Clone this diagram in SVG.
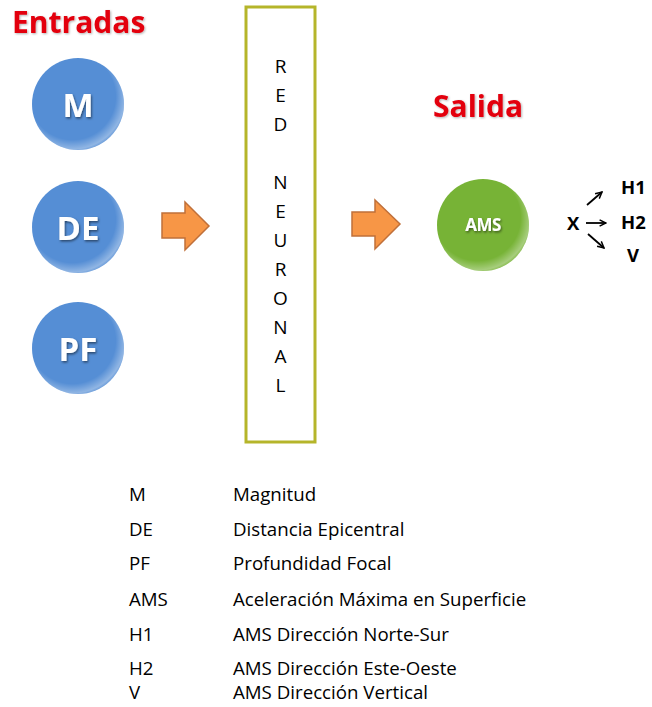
<svg xmlns="http://www.w3.org/2000/svg" width="652" height="707" viewBox="0 0 652 707">
<defs>
<radialGradient id="bevel" cx="0.44" cy="0.42" r="0.6">
<stop offset="0.78" stop-color="#ffffff" stop-opacity="0"/>
<stop offset="0.95" stop-color="#ffffff" stop-opacity="0.35"/>
<stop offset="1" stop-color="#ffffff" stop-opacity="0.15"/>
</radialGradient>
<filter id="ts" x="-20%" y="-20%" width="140%" height="140%">
<feDropShadow dx="1" dy="1.5" stdDeviation="1" flood-color="#000" flood-opacity="0.5"/>
</filter>
<filter id="rs" x="-10%" y="-20%" width="120%" height="140%">
<feDropShadow dx="1" dy="1" stdDeviation="0.8" flood-color="#000" flood-opacity="0.3"/>
</filter>
<marker id="ah" viewBox="0 0 10 10" refX="9" refY="5" markerWidth="8" markerHeight="8" markerUnits="userSpaceOnUse" orient="auto">
<path d="M1,1 L9,5 L1,9" fill="none" stroke="#000" stroke-width="1.8"/>
</marker>
</defs>
<style>
.title{font-family:"Open Sans",sans-serif;font-weight:bold;font-size:30px;fill:#e3000f}
.blue{fill:#558ed5}
.green{fill:#77b336}
.lbl{font-family:"Open Sans",sans-serif;font-weight:bold;fill:#fff;text-anchor:middle}
.net{font-family:"Open Sans",sans-serif;font-size:19px;fill:#000;text-anchor:middle}
.out{font-family:"Open Sans",sans-serif;font-weight:bold;font-size:18.5px;fill:#000}
.leg{font-family:"Open Sans",sans-serif;font-size:18.7px;fill:#000}
.arrow{fill:#f79646;stroke:#c0703a;stroke-width:1.5}
.conn{stroke:#000;stroke-width:1.8;fill:none}
</style>
<rect width="652" height="707" fill="#fff"/>
<text class="title" x="12" y="33" filter="url(#rs)">Entradas</text>
<text class="title" x="433" y="117" filter="url(#rs)">Salida</text>

<g id="node-M">
<circle class="blue" cx="78" cy="104" r="46"/>
<circle cx="78" cy="104" r="46" fill="url(#bevel)"/>
<text class="lbl" x="78" y="117" font-size="33" filter="url(#ts)">M</text>
</g>
<g id="node-DE">
<circle class="blue" cx="78" cy="227" r="46"/>
<circle cx="78" cy="227" r="46" fill="url(#bevel)"/>
<text class="lbl" x="78" y="240" font-size="33" filter="url(#ts)">DE</text>
</g>
<g id="node-PF">
<circle class="blue" cx="78" cy="348" r="46"/>
<circle cx="78" cy="348" r="46" fill="url(#bevel)"/>
<text class="lbl" x="78" y="361" font-size="33" filter="url(#ts)">PF</text>
</g>

<g id="node-red">
<rect x="246" y="7" width="69" height="435" fill="#fff" stroke="#b5b52a" stroke-width="3"/>
<text class="net" x="280.5" y="73">R</text>
<text class="net" x="280.5" y="102">E</text>
<text class="net" x="280.5" y="131">D</text>
<text class="net" x="280.5" y="189">N</text>
<text class="net" x="280.5" y="218">E</text>
<text class="net" x="280.5" y="247">U</text>
<text class="net" x="280.5" y="276">R</text>
<text class="net" x="280.5" y="305">O</text>
<text class="net" x="280.5" y="334">N</text>
<text class="net" x="280.5" y="363">A</text>
<text class="net" x="280.5" y="392">L</text>
</g>

<g id="node-AMS">
<circle class="green" cx="483" cy="225" r="46"/>
<circle cx="483" cy="225" r="46" fill="url(#bevel)"/>
<text class="lbl" x="483" y="231" font-size="17" letter-spacing="-0.5" filter="url(#ts)">AMS</text>
</g>

<g id="node-X">
<text class="out" x="567" y="230" font-size="19.5">X</text>
</g>
<g id="node-H1"><text class="out" x="621" y="194">H1</text></g>
<g id="node-H2"><text class="out" x="621" y="229">H2</text></g>
<g id="node-V"><text class="out" x="627" y="262">V</text></g>

<g id="connectors">
<path class="arrow" d="M162,213 L185,213 L185,202 L209,226 L185,250 L185,238 L162,238 Z"/>
<path class="arrow" d="M352,212 L375,212 L375,200 L400,224 L375,249 L375,236 L352,236 Z"/>
<line class="conn" x1="587" y1="205" x2="602" y2="192" marker-end="url(#ah)"/>
<line class="conn" x1="586" y1="223" x2="606" y2="223" marker-end="url(#ah)"/>
<line class="conn" x1="588" y1="234" x2="604" y2="248" marker-end="url(#ah)"/>
</g>

<g id="legend">
<text class="leg" x="129" y="501">M</text><text class="leg" x="233" y="501">Magnitud</text>
<text class="leg" x="129" y="536">DE</text><text class="leg" x="233" y="536">Distancia Epicentral</text>
<text class="leg" x="129" y="570">PF</text><text class="leg" x="233" y="570">Profundidad Focal</text>
<text class="leg" x="129" y="606">AMS</text><text class="leg" x="233" y="606">Aceleración Máxima en Superficie</text>
<text class="leg" x="129" y="641">H1</text><text class="leg" x="233" y="641">AMS Dirección Norte-Sur</text>
<text class="leg" x="129" y="675">H2</text><text class="leg" x="233" y="675">AMS Dirección Este-Oeste</text>
<text class="leg" x="129" y="699">V</text><text class="leg" x="233" y="699">AMS Dirección Vertical</text>
</g>
</svg>
